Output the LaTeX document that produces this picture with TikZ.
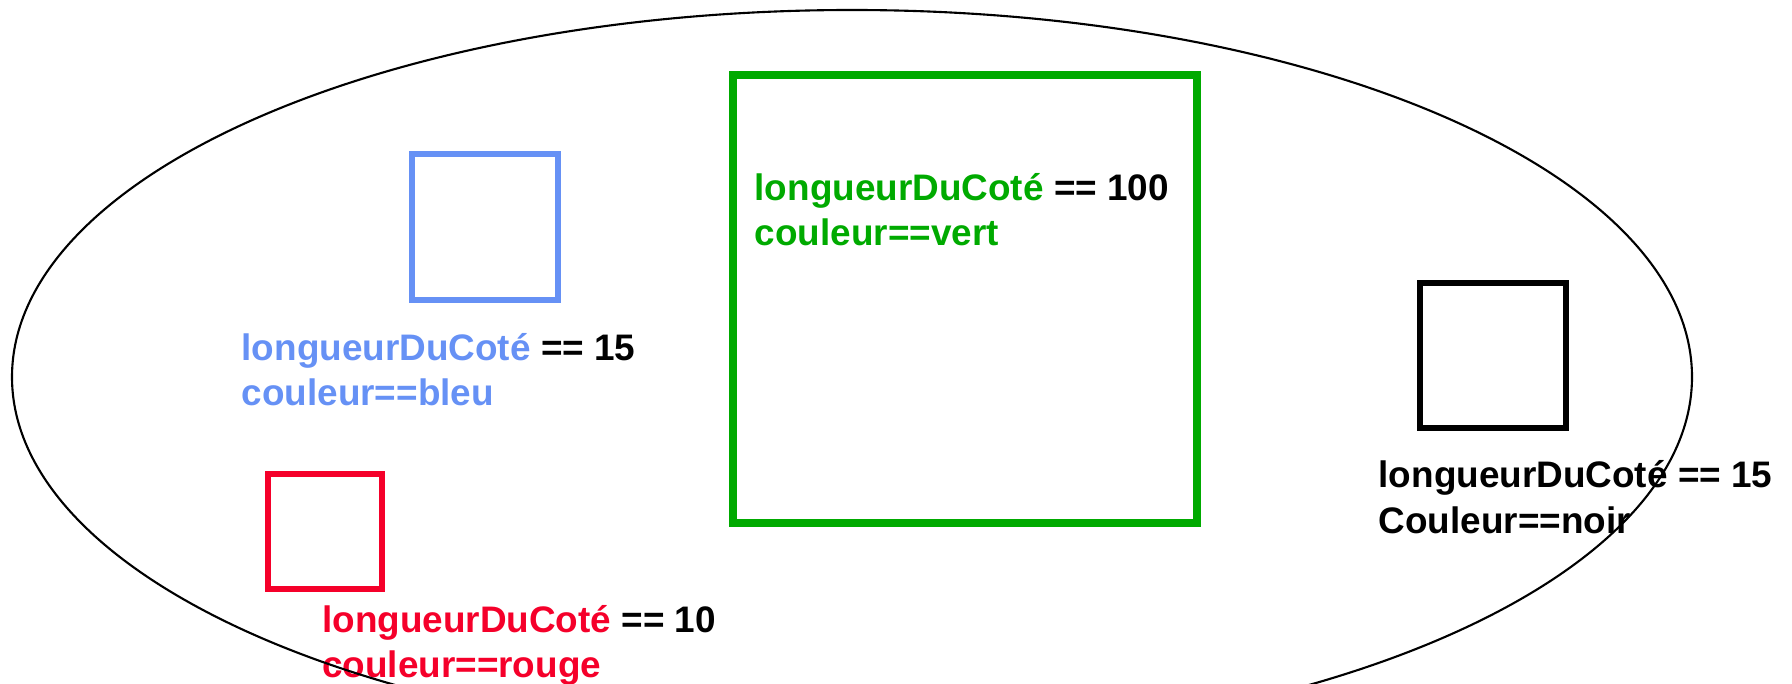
\documentclass[tikz,border=0pt]{standalone}
\usepackage{fontspec}
\setmainfont{Liberation Sans}
\definecolor{bleu}{RGB}{102,145,245}
\definecolor{rouge}{RGB}{245,0,42}
\definecolor{vert}{RGB}{0,170,0}

\begin{document}
\begin{tikzpicture}[
    label/.style={anchor=base west,inner sep=0pt,font=\fontsize{10.5}{12.9}\selectfont\bfseries},
    carre/.style={line width=1.6pt}]
  \useasboundingbox (0,0) rectangle (17.92,6.84);
  \clip (0,0) rectangle (17.92,6.84);
  % les carres
  \draw [carre,bleu] (4.12,3.84) rectangle (5.58,5.30);
  \draw [carre,rouge] (2.68,0.95) rectangle (3.82,2.10);
  \draw [carre,vert,line width=2.3pt] (7.33,1.61) rectangle (11.97,6.09);
  \draw [carre,black] (14.20,2.56) rectangle (15.66,4.01);
  % leurs attributs
  \node [label] (cote-bleu) at (2.41,3.23) {\textcolor{bleu}{longueurDuCoté} == 15};
  \node [label,bleu] (coul-bleu) at (2.41,2.78) {couleur==bleu};
  \node [label] (cote-vert) at (7.54,4.83) {\textcolor{vert}{longueurDuCoté} == 100};
  \node [label,vert] (coul-vert) at (7.54,4.38) {couleur==vert};
  \node [label] (cote-rouge) at (3.215,0.51) {\textcolor{rouge}{longueurDuCoté} == 10};
  \node [label,rouge] (coul-rouge) at (3.215,0.06) {couleur==rouge};
  \node [label] (cote-noir) at (13.78,1.96) {longueurDuCoté == 15};
  \node [label] (coul-noir) at (13.78,1.50) {Couleur==noir};
  % l'ensemble
  \draw [black,line width=0.6pt] (8.52,3.07) ellipse [x radius=8.40,y radius=3.67];
\end{tikzpicture}
\end{document}
